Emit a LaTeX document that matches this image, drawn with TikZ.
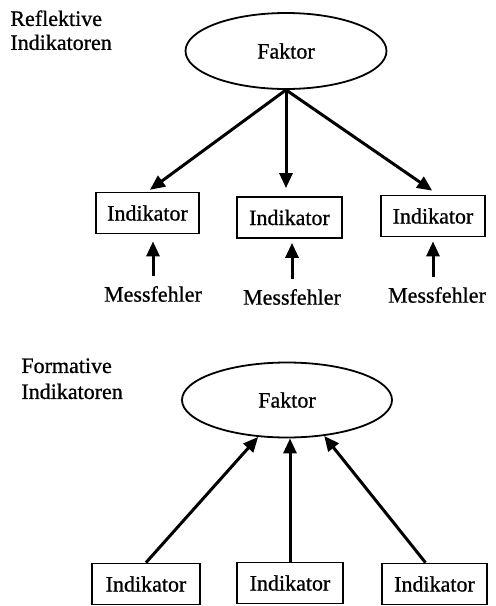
\documentclass[tikz,border=0pt]{standalone}
\usepackage{fontspec}
\setmainfont{Liberation Serif}[FakeBold=0.8]
\usetikzlibrary{arrows.meta,shapes.geometric}
\tikzset{
  x=0.5pt, y=-0.5pt,
  every node/.style={font=\fontsize{11}{12}\selectfont},
  factor/.style={draw, ellipse, line width=0.9pt, inner sep=0pt},
  indbox/.style={draw, rectangle, line width=0.9pt, inner sep=0pt, minimum height=20.5pt},
  label/.style={inner sep=0pt},
  heading/.style={inner sep=0pt, anchor=north west, align=left},
  arr/.style={line width=1.5pt, -{Triangle[length=7.5pt,width=6.5pt]}}
}
\begin{document}
\begin{tikzpicture}
\useasboundingbox (0,0) rectangle (495,606);

% reflective model
\node[heading] (h1) at (10,10) {Reflektive\\Indikatoren};
\node[factor, minimum width=100.5pt, minimum height=38pt] (f1) at (286,51) {Faktor};
\node[indbox, minimum width=51.5pt] (i1) at (147.5,213) {Indikator};
\node[indbox, minimum width=52.5pt] (i2) at (289.5,217.5) {Indikator};
\node[indbox, minimum width=52pt] (i3) at (433,216) {Indikator};
\node[label] (m1) at (153,294) {Messfehler};
\node[label] (m2) at (292,297) {Messfehler};
\node[label] (m3) at (437,295) {Messfehler};

\draw[arr, shorten >=1.5pt] (f1.south) -- (i1.north);
\draw[arr, shorten >=4pt] (f1.south) -- (f1.south |- i2.north);
\draw[arr, shorten >=3.5pt] (f1.south) -- ([xshift=2.5pt]i3.north);
\draw[arr, shorten <=5pt, shorten >=3.5pt] (m1.north) -- (m1.north |- i1.south);
\draw[arr, shorten <=5pt, shorten >=2pt] (m2.north) -- (m2.north |- i2.south);
\draw[arr, shorten <=5pt, shorten >=2pt] (m3.north -| i3.south) -- (i3.south);

% formative model
\node[heading] (h2) at (21,358) {Formative\\[1pt]Indikatoren};
\node[factor, minimum width=105pt, minimum height=37.5pt] (f2) at (287,400) {Faktor};
\node[indbox, minimum width=54pt] (j1) at (146,584) {Indikator};
\node[indbox, minimum width=53pt] (j2) at (290,583) {Indikator};
\node[indbox, minimum width=52.5pt] (j3) at (434.5,584) {Indikator};

\draw[arr] (j1.north) -- (f2.232);
\draw[arr] (j2.north) -- (j2.north |- f2.south);
\draw[arr] ([xshift=-4.5pt]j3.north) -- (f2.316);
\end{tikzpicture}
\end{document}
